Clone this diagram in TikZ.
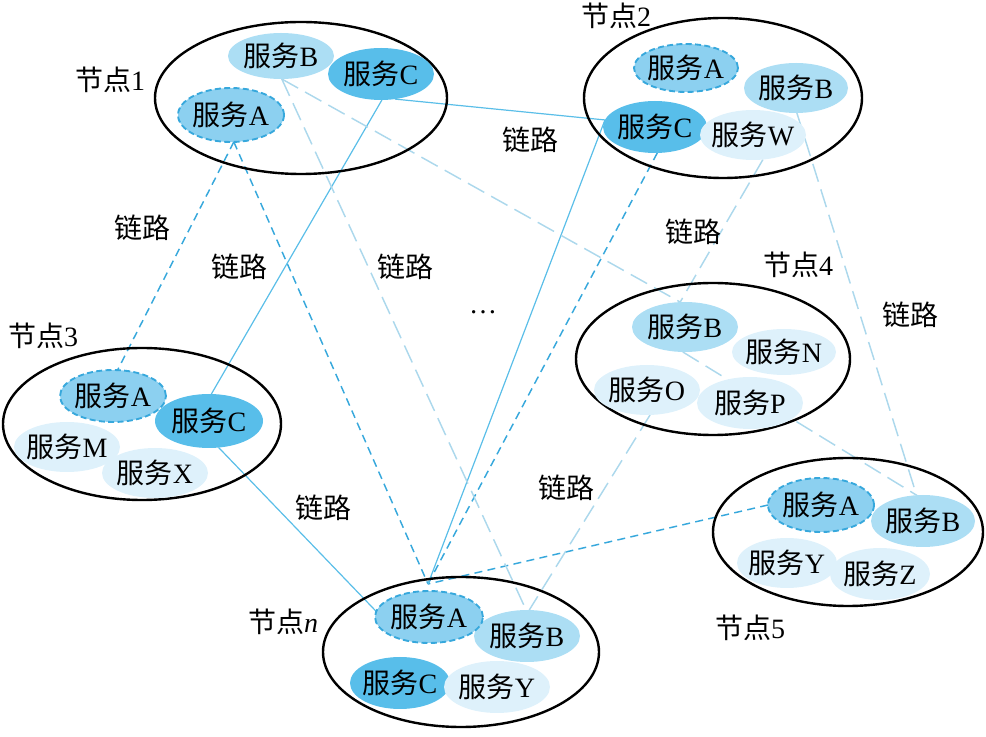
\documentclass[tikz,border=0pt]{standalone}
\usepackage{fontspec}
\setmainfont{Liberation Serif}
\newfontfamily\cjk{Noto Sans CJK SC}
\usetikzlibrary{shapes.geometric,backgrounds}
\definecolor{cMed}{RGB}{88,190,234}
\definecolor{cA}{RGB}{140,208,240}
\definecolor{cB}{RGB}{172,222,244}
\definecolor{cL}{RGB}{222,241,251}
\definecolor{cDash}{RGB}{55,168,220}
\definecolor{cLine}{RGB}{90,190,232}
\definecolor{cLight}{RGB}{172,216,236}
\newcommand\fw[1]{\makebox[0pt][c]{{\cjk 服务}#1}}
\newcommand\jd[1]{{\cjk 节点}#1}
\newcommand\lianlu{{\cjk 链路}}
\begin{document}
\begin{tikzpicture}[x=0.75pt,y=-0.75pt,
  font=\fontsize{21}{25}\selectfont,
  svc/.style={ellipse, inner sep=0pt, outer sep=0pt},
  sz/.style 2 args={minimum width=#1*1.5pt, minimum height=#2*1.5pt},
  svA/.style={svc, fill=cA, draw=cDash, line width=1.4pt, dash pattern=on 4.5pt off 2.5pt},
  svB/.style={svc, fill=cB},
  svC/.style={svc, fill=cMed},
  svL/.style={svc, fill=cL},
  outer/.style={ellipse, draw=black, line width=1.8pt, inner sep=0pt},
  lkM/.style={draw=cDash, line width=1.1pt, dash pattern=on 6pt off 4pt},
  lkS/.style={draw=cLine, line width=0.9pt},
  lkL/.style={draw=cLight, line width=1.1pt, dash pattern=on 14pt off 6pt},
  txt/.style={inner sep=0pt}]
\useasboundingbox (0,0) rectangle (986,737);

% outer ellipses
\node[outer, sz={146}{76}] (N1) at (301,98) {};
\node[outer, sz={139}{80}] (N2) at (723,98) {};
\node[outer, sz={139}{76}] (N3) at (142,424) {};
\node[outer, sz={137}{76}] (N4) at (713,359) {};
\node[outer, sz={135}{74}] (N5) at (848,532) {};
\node[outer, sz={138}{75}] (Nn) at (461,652) {};

% node 1
\node[svB, sz={53}{23}] (n1B) at (281,56) {\fw{B}};
\node[svC, sz={53}{26}] (n1C) at (381,74) {\fw{C}};
\node[svA, sz={53}{27}] (n1A) at (231,115) {\fw{A}};
% node 2
\node[svA, sz={52}{24}] (n2A) at (686,68) {\fw{A}};
\node[svB, sz={52}{25}] (n2B) at (796,88) {\fw{B}};
\node[svC, sz={52}{26}] (n2C) at (655,127) {\fw{C}};
\node[svL, sz={53}{25}] (n2W) at (753,135) {\fw{W}};
% node 3
\node[svL, sz={53}{25}] (n3M) at (67,447) {\fw{M}};
\node[svL, sz={53}{25}] (n3X) at (155,473) {\fw{X}};
\node[svC, sz={54}{27}] (n3C) at (209,421) {\fw{C}};
\node[svA, sz={53}{26}] (n3A) at (113,396) {\fw{A}};
% node 4
\node[svB, sz={53}{25}] (n4B) at (685,327) {\fw{B}};
\node[svL, sz={52}{23}] (n4N) at (784,352) {\fw{N}};
\node[svL, sz={53}{25}] (n4O) at (647,390) {\fw{O}};
\node[svL, sz={53}{26}] (n4P) at (750,403) {\fw{P}};
% node 5
\node[svB, sz={52}{26}] (n5B) at (923,521) {\fw{B}};
\node[svA, sz={53}{27}] (n5A) at (821,505) {\fw{A}};
\node[svL, sz={50}{25}] (n5Y) at (787,563) {\fw{Y}};
\node[svL, sz={50}{26}] (n5Z) at (880,574) {\fw{Z}};
% node n
\node[svB, sz={53}{26}] (nnB) at (527,636) {\fw{B}};
\node[svA, sz={54}{26}] (nnA) at (429,617) {\fw{A}};
\node[svC, sz={50}{26}] (nnC) at (400,683) {\fw{C}};
\node[svL, sz={53}{26}] (nnY) at (497,687) {\fw{Y}};

\coordinate (hub) at (428,584);

% links
\begin{scope}[on background layer]
\draw[lkM] (n1A.-84) -- (n3A.80);
\draw[lkM] (n1A.-84) -- (hub);
\draw[lkM] (n2C.-85) -- (hub);
\draw[lkM] (n5A.180) -- (hub);
\draw[lkS] (n1C.-88) -- (n3C.85);
\draw[lkS] (n1C.-61) -- (n2C.172);
\draw[lkS] (n2C.172) -- (hub);
\draw[lkS] (n3C.-70) -- (nnA.174);
\draw[lkL] (n1B.-88) -- (nnB.92);
\draw[lkL] (n1B.-88) -- (n4B.101);
\draw[lkL] (n2W.-68) -- (n4B.101);
\draw[lkL] (n2B.-88) -- (n5B.104);
\draw[lkL] (n4B.-95) -- (n5B.104);
\draw[lkL] (n4O.-83) -- (nnB.85);
\end{scope}

% node labels
\node[txt] (t1) at (110,80) {\jd{1}};
\node[txt] (t2) at (616,16) {\jd{2}};
\node[txt] (t3) at (43,336) {\jd{3}};
\node[txt] (t4) at (798,265) {\jd{4}};
\node[txt] (t5) at (750,628) {\jd{5}};
\node[txt] (tn) at (283,622) {\jd{\textit{n}}};

% link labels
\node[txt] (l1) at (142,228) {\lianlu};
\node[txt] (l2) at (239,267) {\lianlu};
\node[txt] (l3) at (405,267) {\lianlu};
\node[txt] (l4) at (530,140) {\lianlu};
\node[txt] (l5) at (693,232) {\lianlu};
\node[txt] (l6) at (910,315) {\lianlu};
\node[txt] (l7) at (323,508) {\lianlu};
\node[txt] (l8) at (566,488) {\lianlu};
\node[txt] (dots) at (483,312) {\ldots};
\end{tikzpicture}
\end{document}
